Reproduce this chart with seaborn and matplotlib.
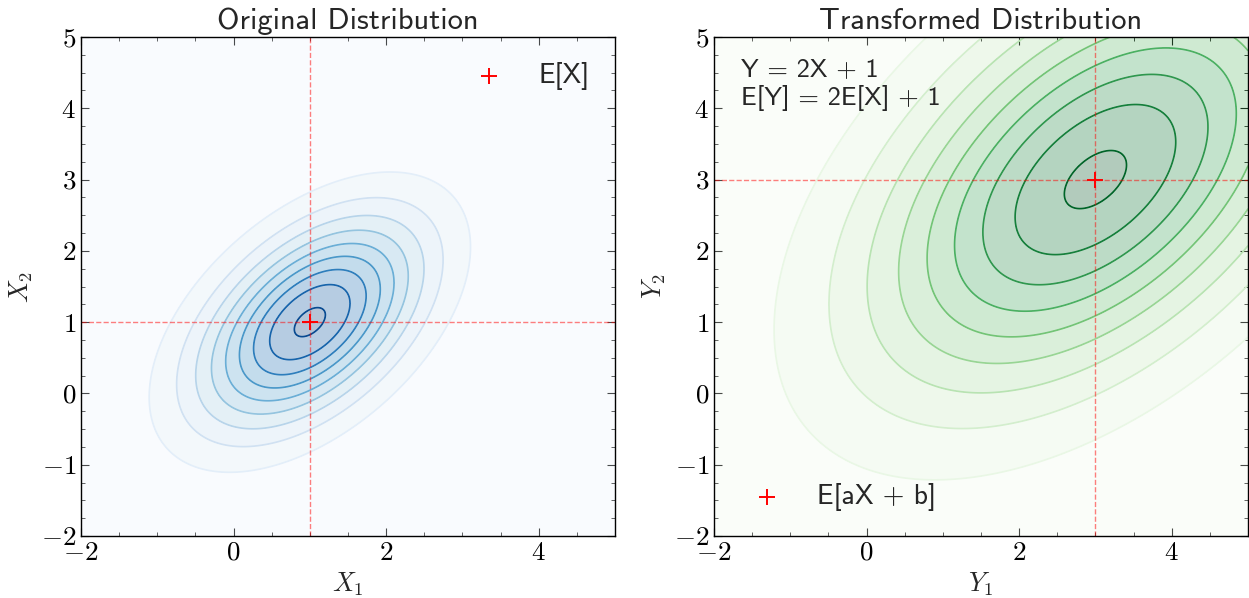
import numpy as np
import pandas as pd
import matplotlib
matplotlib.use("Agg")
import matplotlib.pyplot as plt
import seaborn as sns
from matplotlib.ticker import MultipleLocator

# ---- data ----
mean_x = [1.0, 1.0]
cov_x = [[1.0, 0.5], [0.5, 1.0]]
scale_a = 2.0
shift_b = 1.0
x_range = [-2.0, 5.0]
y_range = [-2.0, 5.0]
titles = ["Original Distribution", "Transformed Distribution"]
xlabels = [r"$X_1$", r"$Y_1$"]
ylabels = [r"$X_2$", r"$Y_2$"]
legend_labels = ["E[X]", "E[aX + b]"]
annotation = "Y = 2X + 1\nE[Y] = 2E[X] + 1"
cmaps = ["Blues", "Greens"]

mean_y = [scale_a * m + shift_b for m in mean_x]
cov_y = [[scale_a ** 2 * c for c in row] for row in cov_x]

sns.set_style("ticks")
plt.rcParams.update({
    "font.family": "serif",
    "font.serif": ["cmr10"],
    "mathtext.fontset": "cm",
    "axes.formatter.use_mathtext": True,
    "xtick.direction": "in",
    "ytick.direction": "in",
    "xtick.top": True,
    "ytick.right": True,
    "xtick.minor.visible": True,
    "ytick.minor.visible": True,
    "xtick.major.size": 6,
    "ytick.major.size": 6,
    "xtick.minor.size": 3,
    "ytick.minor.size": 3,
    "xtick.major.width": 0.8,
    "ytick.major.width": 0.8,
    "xtick.minor.width": 0.6,
    "ytick.minor.width": 0.6,
    "axes.linewidth": 1.0,
    "axes.edgecolor": "black",
    "xtick.color": "black",
    "ytick.color": "black",
})

W, H = 1249, 598
fig = plt.figure(figsize=(W / 100, H / 100), dpi=100)
ax_l = fig.add_axes([81 / W, 1 - 536 / H, 534 / W, 499 / H])
ax_r = fig.add_axes([714 / W, 1 - 536 / H, 534 / W, 499 / H])

gx = np.linspace(x_range[0], x_range[1], 400)
gy = np.linspace(y_range[0], y_range[1], 400)
XX, YY = np.meshgrid(gx, gy)


def gauss_pdf(mu, cov):
    cov = np.asarray(cov)
    inv = np.linalg.inv(cov)
    det = np.linalg.det(cov)
    dx = XX - mu[0]
    dy = YY - mu[1]
    q = inv[0, 0] * dx * dx + 2 * inv[0, 1] * dx * dy + inv[1, 1] * dy * dy
    return np.exp(-0.5 * q) / (2 * np.pi * np.sqrt(det))


for i, (ax, mu, cov) in enumerate([(ax_l, mean_x, cov_x), (ax_r, mean_y, cov_y)]):
    Z = gauss_pdf(mu, cov)
    ax.contourf(XX, YY, Z, levels=10, cmap=cmaps[i], alpha=0.3)
    ax.contour(XX, YY, Z, levels=10, cmap=cmaps[i], linewidths=1.2)
    ax.axvline(mu[0], color="red", alpha=0.5, linestyle="--", linewidth=1.0)
    ax.axhline(mu[1], color="red", alpha=0.5, linestyle="--", linewidth=1.0)
    df = pd.DataFrame({"x": [mu[0]], "y": [mu[1]]})
    sns.scatterplot(data=df, x="x", y="y", marker="+", color="red", s=120,
                    linewidth=1.4, label=legend_labels[i], ax=ax, zorder=5)
    ax.set_xlim(*x_range)
    ax.set_ylim(*y_range)
    ax.xaxis.set_major_locator(MultipleLocator(2))
    ax.xaxis.set_minor_locator(MultipleLocator(0.5))
    ax.yaxis.set_major_locator(MultipleLocator(1))
    ax.yaxis.set_minor_locator(MultipleLocator(0.25))
    ax.tick_params(labelsize=19.5)
    ax.set_xlabel(xlabels[i], fontsize=19, labelpad=4)
    ax.set_ylabel(ylabels[i], fontsize=19, labelpad=4)
    ax.set_title(titles[i], fontsize=22, fontfamily="cmss10", pad=6)
    leg = ax.legend(loc="upper right" if i == 0 else "lower left", frameon=False,
                    prop={"family": "cmss10", "size": 20})

ax_r.text(0.05, 0.955, annotation, transform=ax_r.transAxes, va="top", ha="left",
          fontsize=19, fontfamily="cmss10", linespacing=1.15)

fig.savefig("out.png", dpi=100)
